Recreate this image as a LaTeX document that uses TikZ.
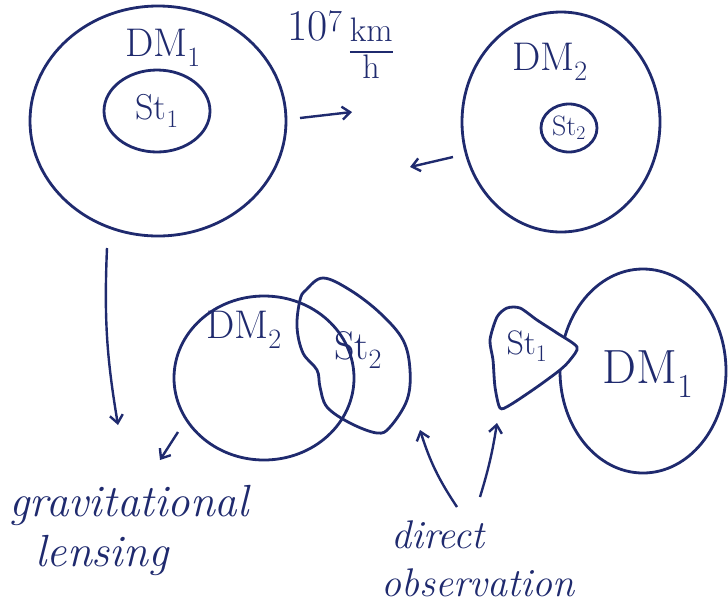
\documentclass[tikz,border=0pt]{standalone}
\usepackage{tikz}
\usetikzlibrary{shapes.geometric, arrows.meta, positioning, calc}
\definecolor{ink}{HTML}{1F2A6E}
\newcommand{\speedfrac}[2]{{\setlength{\arrayrulewidth}{2.4pt}%
  \begin{tabular}{@{}c@{}}#1\\[-2pt]\hline\rule{0pt}{0.75em}#2\end{tabular}}}
\tikzstyle{halo}  = [ellipse, draw=ink, line width=2.8pt, inner sep=0pt]
\tikzstyle{stars} = [ellipse, draw=ink, line width=2.8pt, inner sep=0pt,
                     text=ink, font=\fontsize{36}{38}\selectfont]
\tikzstyle{blob}  = [draw=ink, line width=2.8pt, fill=white]
\tikzstyle{tag}   = [text=ink, font=\fontsize{40}{42}\selectfont]
\tikzstyle{note}  = [text=ink, font=\fontsize{40}{42}\selectfont\itshape]
\tikzstyle{arrow} = [-{Straight Barb[length=8pt,width=13pt]}, line width=2.4pt, color=ink]

\begin{document}
\begin{tikzpicture}[x=1pt, y=-1pt]
  \useasboundingbox (0,0) rectangle (728,614);

  %% ── Before: two halos moving towards each other ──
  \node[halo, minimum width=256pt, minimum height=230pt] (dm1) at (158,121) {};
  \node[tag] (dm1_lab) at (163,48) {DM\textsubscript{1}};
  \node[stars, minimum width=106pt, minimum height=82pt] (st1) at (157,111) {St\textsubscript{1}};

  \node[halo, minimum width=198pt, minimum height=220pt] (dm2) at (561,122) {};
  \node[tag] (dm2_lab) at (550,62) {DM\textsubscript{2}};
  \node[stars, minimum width=56pt, minimum height=48pt,
        font=\fontsize{28}{30}\selectfont] (st2) at (569,128) {St\textsubscript{2}};

  \node[tag, font=\fontsize{44}{46}\selectfont] (speed) at (340,50)
        {10\textsuperscript{7}\,\raisebox{-0.42em}{\fontsize{34}{36}\selectfont\speedfrac{km}{h}}};

  %% ── After: halos passed through, stars lag behind ──
  \node[halo, minimum width=180pt, minimum height=164pt] (dm2_b) at (264,378) {};
  \draw[blob, fill=none] plot[smooth cycle, tension=0.6] coordinates
        {(306,290) (323,278) (350,290) (380,313) (403,340) (410,370) (407,400)
         (390,427) (377,433) (350,423) (327,407) (320,387) (317,370) (303,353)
         (297,327) (300,300)};
  \node[tag] (dm2_b_lab) at (244,330) {DM\textsubscript{2}};
  \node[tag] (st2_b_lab) at (358,350) {St\textsubscript{2}};

  \node[halo, minimum width=166pt, minimum height=204pt] (dm1_b) at (643,371) {};
  \draw[blob] plot[smooth cycle, tension=0.45] coordinates
        {(500,408) (495,387) (493,360) (490,340) (497,317) (507,308) (520,308)
         (537,320) (557,333) (577,347) (570,360) (560,370) (537,387) (510,405)};
  \node[tag, font=\fontsize{34}{36}\selectfont] (st1_b_lab) at (527,346) {St\textsubscript{1}};
  \node[tag, font=\fontsize{48}{50}\selectfont] (dm1_b_lab) at (648,374) {DM\textsubscript{1}};

  %% ── Labels ──
  \node[note, anchor=west, font=\fontsize{45}{47}\selectfont\itshape] (grav) at (6,505) {gravitational};
  \node[note, anchor=west, font=\fontsize{45}{47}\selectfont\itshape] (lensing) at (32,555) {lensing};
  \node[note] (direct) at (438,535) {direct};
  \node[note] (observ) at (478,583) {observation};

  %% ── Arrows ──
  \coordinate (go1) at (300,118);  \coordinate (go1_end) at (352,112);
  \coordinate (go2) at (453,157);  \coordinate (go2_end) at (410,167);
  \coordinate (lens1) at (107,248); \coordinate (lens1_end) at (118,425);
  \coordinate (lens2) at (178,432); \coordinate (lens2_end) at (160,460);
  \coordinate (obs1) at (457,507);  \coordinate (obs1_end) at (420,430);
  \coordinate (obs2) at (480,497);  \coordinate (obs2_end) at (497,423);

  \draw[arrow] (go1) -- (go1_end);
  \draw[arrow] (go2) -- (go2_end);
  \draw[arrow] (lens1) to[bend right=6] (lens1_end);
  \draw[arrow] (lens2) -- (lens2_end);
  \draw[arrow] (obs1) to[bend left=8] (obs1_end);
  \draw[arrow] (obs2) to[bend right=4] (obs2_end);

\end{tikzpicture}
\end{document}
